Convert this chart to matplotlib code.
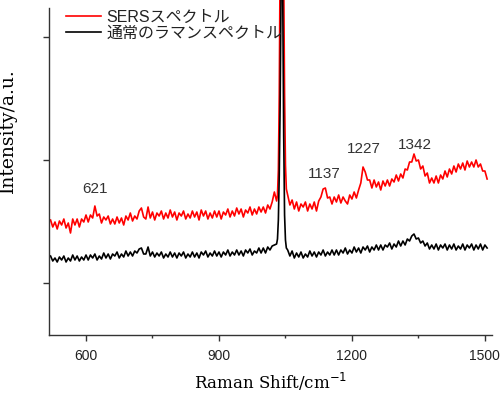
import numpy as np
import matplotlib
matplotlib.use('Agg')
import matplotlib.pyplot as plt

plt.rcParams['font.family'] = ['Liberation Sans', 'Noto Sans CJK JP', 'DejaVu Sans']

# wavenumber grid (cm-1), finer around the 1042 band
shift = np.concatenate([np.arange(520, 1031, 5), np.arange(1032, 1053, 2), np.arange(1055, 1506, 5)])

# SERS spectrum (a.u.)
sers = [115, 108, 113, 106, 114, 110, 116, 107, 112, 102, 116, 110, 116, 108, 116, 113, 120, 113, 120, 117,
        129, 119, 121, 112, 118, 115, 119, 111, 116, 111, 118, 112, 117, 110, 119, 115, 122, 114, 119, 116,
        124, 127, 118, 116, 128, 117, 123, 115, 122, 119, 124, 116, 122, 117, 125, 118, 123, 115, 122, 119,
        124, 116, 121, 117, 124, 118, 123, 115, 125, 119, 124, 116, 122, 117, 124, 118, 124, 116, 123, 120,
        126, 118, 124, 119, 127, 121, 126, 118, 125, 122, 128, 120, 126, 121, 128, 123, 128, 122, 130, 126,
        133, 143, 134,
        140, 165, 240, 380, 480, 500, 470, 360, 240, 170, 146,
        140, 130, 135, 126, 133, 124, 131, 128, 133, 124, 131, 126, 133, 124, 134, 138, 146, 147, 137, 138,
        131, 138, 133, 140, 132, 138, 134, 131, 140, 136, 143, 137, 145, 152, 168, 163, 155, 155, 147, 155,
        148, 153, 145, 154, 149, 155, 149, 156, 153, 160, 154, 161, 157, 166, 165, 173, 173, 181, 174, 175,
        166, 169, 159, 162, 152, 157, 152, 159, 152, 160, 156, 164, 158, 166, 161, 169, 163, 171, 166, 172,
        165, 174, 168, 173, 168, 175, 168, 171, 164, 164, 156]

# normal Raman spectrum (a.u.)
normal = [79, 74, 77, 73, 78, 75, 79, 73, 77, 74, 80, 75, 79, 74, 78, 75, 80, 75, 80, 77,
          81, 75, 79, 76, 82, 77, 81, 76, 81, 79, 83, 77, 81, 78, 84, 79, 83, 79, 84, 82,
          86, 87, 81, 81, 88, 79, 83, 78, 82, 79, 83, 77, 81, 78, 83, 78, 82, 77, 82, 79,
          83, 77, 81, 78, 83, 78, 82, 77, 83, 80, 84, 78, 82, 79, 84, 79, 83, 78, 83, 80,
          85, 79, 83, 80, 85, 80, 84, 79, 85, 82, 86, 80, 84, 82, 87, 82, 87, 82, 88, 85,
          89, 90, 91,
          96, 115, 160, 230, 340, 420, 330, 200, 120, 95, 87,
          85, 79, 84, 77, 82, 78, 83, 77, 81, 78, 84, 79, 83, 78, 83, 80, 85, 79, 83, 80,
          85, 80, 85, 80, 85, 82, 87, 81, 85, 82, 88, 83, 87, 82, 88, 85, 89, 83, 88, 85,
          90, 85, 90, 85, 90, 88, 92, 86, 91, 88, 94, 89, 94, 90, 96, 94, 99, 101, 96, 97,
          92, 94, 89, 92, 86, 90, 86, 91, 85, 90, 87, 91, 85, 90, 86, 91, 85, 89, 86, 91,
          85, 90, 87, 91, 85, 90, 86, 91, 85, 90, 87]

peak_pos = [621, 1137, 1227, 1342]
peak_lbl = ['621', '1137', '1227', '1342']
peak_y = [146, 161, 186, 190]

fig = plt.figure(figsize=(5.02, 3.96), dpi=100)
ax = fig.add_axes([49/502, 1-335/396, 443/502, 335/396])

ax.plot(shift, sers, color='#ff0000', lw=1.2, label='SERSスペクトル')
ax.plot(shift, normal, color='#000000', lw=1.2, label='通常のラマンスペクトル')

for p, t, yy in zip(peak_pos, peak_lbl, peak_y):
    ax.text(p, yy, t, ha='center', va='center', fontsize=11, color='#333333', family='Liberation Sans')

ax.set_xlim(516.5, 1516)
ax.set_ylim(0, 335)
ax.set_xticks([600, 900, 1200, 1500])
ax.set_xticklabels(['600', '900', '1200', '1500'], family='Liberation Sans', fontsize=10, color='#222222')
ax.set_xticks([750, 1050, 1350], minor=True)
ax.set_yticks([52, 175, 298])
ax.set_yticklabels([])
ax.tick_params(axis='both', which='major', length=4, width=1, color='#333333')
ax.tick_params(axis='x', which='minor', length=2, width=1, color='#333333')
ax.tick_params(axis='x', pad=6)

for s in ['top', 'right']:
    ax.spines[s].set_visible(False)
for s in ['left', 'bottom']:
    ax.spines[s].set_color('#333333')
    ax.spines[s].set_linewidth(1.0)
ax.spines['left'].set_bounds(0, 327)

ax.set_xlabel('Raman Shift/cm$^{-1}$', family='DejaVu Serif', fontsize=12, labelpad=6)
ax.set_ylabel('Intensity/a.u.', family='DejaVu Serif', fontsize=13.5)
ax.yaxis.set_label_coords(-0.072, 0.61)

leg = ax.legend(loc='upper left', bbox_to_anchor=(0.02, 0.995), frameon=False,
                handlelength=2.2, handletextpad=0.35, labelspacing=0.05, borderaxespad=0.1,
                prop={'family': ['Liberation Sans', 'Noto Sans CJK JP', 'DejaVu Sans'], 'size': 11.5})
for t in leg.get_texts():
    t.set_color('#222222')

fig.savefig('out.png', dpi=100)
